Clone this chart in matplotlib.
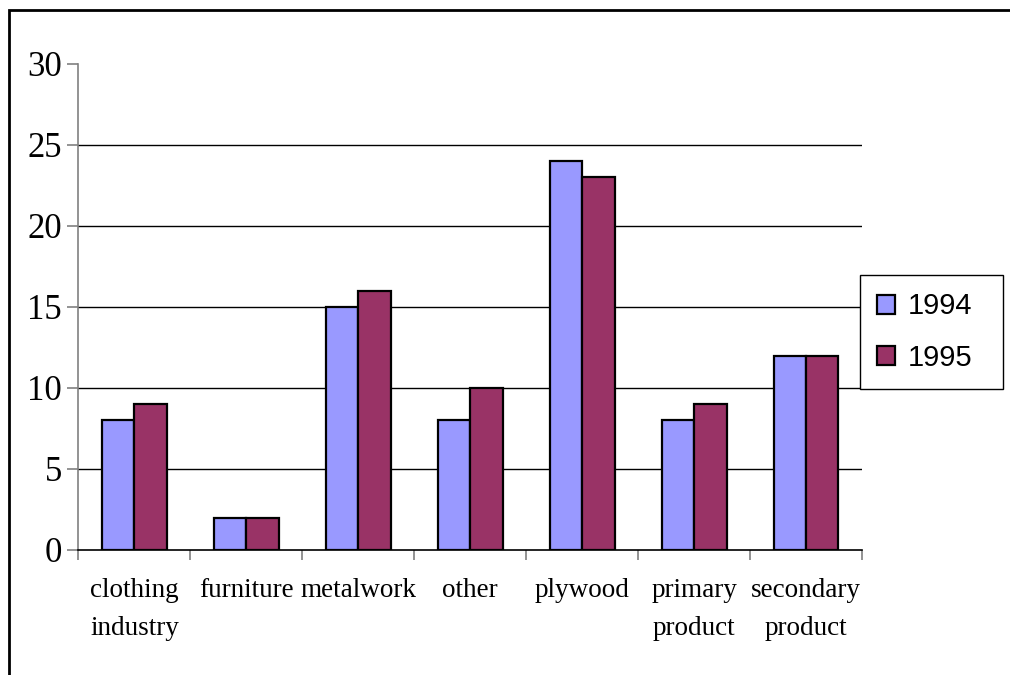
import matplotlib
matplotlib.use("Agg")
import matplotlib.pyplot as plt
from matplotlib.patches import Rectangle
import numpy as np

categorias = ["clothing\nindustry", "furniture", "metalwork", "other",
              "plywood", "primary\nproduct", "secondary\nproduct"]
anos = ["1994", "1995"]
v1994 = [8, 2, 15, 8, 24, 8, 12]
v1995 = [9, 2, 16, 10, 23, 9, 12]
cores = ["#9999FF", "#993366"]

fig = plt.figure(figsize=(10.1, 6.75), dpi=100)
ax = fig.add_axes([0.0777, 0.1852, 0.7757, 0.72])

x = np.arange(len(categorias))
w = 0.29
ax.bar(x - w / 2, v1994, w, color=cores[0], edgecolor="black", linewidth=1.6, label=anos[0], zorder=3)
ax.bar(x + w / 2, v1995, w, color=cores[1], edgecolor="black", linewidth=1.6, label=anos[1], zorder=3)

ax.set_xlim(-0.5, len(categorias) - 0.5)
ax.set_ylim(0, 30)
ax.set_yticks(range(0, 31, 5))
for g in range(5, 30, 5):
    ax.axhline(g, color="black", linewidth=1, zorder=1)

# ticks nas divisas, rotulos no centro
ax.set_xticks(np.arange(-0.5, len(categorias), 1))
ax.set_xticklabels([])
ax.set_xticks(x, minor=True)
ax.set_xticklabels(categorias, minor=True, fontfamily="Liberation Serif",
                   fontsize=19.5, linespacing=1.7, va="top")
ax.tick_params(axis="x", which="minor", length=0, pad=20)
ax.tick_params(axis="x", which="major", length=7, color="#808080", width=1.2)
ax.tick_params(axis="y", length=8, color="#808080", width=1.2, pad=4)
for t in ax.get_yticklabels():
    t.set_fontfamily("Liberation Serif")
    t.set_fontsize(25)

ax.spines["top"].set_visible(False)
ax.spines["right"].set_visible(False)
ax.spines["left"].set_color("#808080")
ax.spines["left"].set_linewidth(1.2)
ax.spines["bottom"].set_color("black")
ax.spines["bottom"].set_linewidth(1.2)

leg = fig.legend(loc="upper left", bbox_to_anchor=(0.851, 0.431, 0.142, 0.1616),
                 mode="expand", borderaxespad=0,
                 prop={"family": "Liberation Sans", "size": 21}, fancybox=False,
                 edgecolor="black", handlelength=0.62, handleheight=0.62,
                 handletextpad=0.45, labelspacing=0.8, borderpad=0.6, framealpha=1)
leg.get_frame().set_linewidth(1)

fig.patches.append(Rectangle((9 / 1010, -0.1), 1.2, 1 - 10 / 675 + 0.1,
                             transform=fig.transFigure, fill=False,
                             edgecolor="black", linewidth=2))

fig.savefig("out.png", dpi=100)
